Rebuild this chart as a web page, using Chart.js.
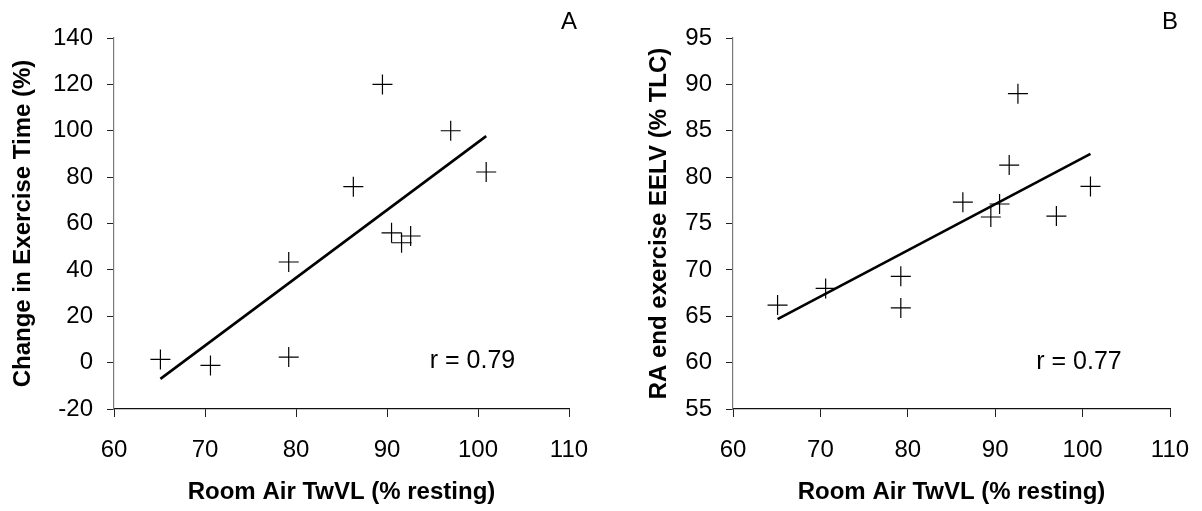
<!DOCTYPE html>
<html>
<head>
<meta charset="utf-8">
<script src="https://cdn.jsdelivr.net/npm/chart.js@4.4.1/dist/chart.umd.min.js"></script>
<style>
  html, body { margin: 0; padding: 0; background: #fff; }
  #wrap { position: relative; width: 1202px; height: 511px; }
  canvas { position: absolute; top: 0; }
  #cA { left: 0; }
  #cB { left: 601px; }
</style>
</head>
<body>
<div id="wrap">
  <canvas id="cA" width="601" height="511"></canvas>
  <canvas id="cB" width="601" height="511"></canvas>
</div>
<script>
// Room air TwVL (% resting) for each subject
const twvl = [65.1, 70.6, 79.2, 79.2, 86.3, 89.5, 90.5, 91.6, 92.6, 97.0, 100.9];

// Panel A: change in exercise time (%), same subject order as twvl
const exTimeChange = [1.4, -1.2, 2.4, 43.4, 75.9, 120.0, 56.0, 51.7, 54.6, 100.0, 82.2];

// Panel B: room-air end-exercise EELV (% TLC), same subject order as twvl
const eelv = [66.2, 68.0, 69.3, 65.9, 77.3, 75.7, 77.1, 81.3, 89.0, 75.8, 79.0];

// Least-squares lines (end points)
const fitX = [65.1, 100.9];
const fitA = [-7.0, 97.7];
const fitB = [64.7, 82.5];

// Correlation coefficients
const rA = 0.79;
const rB = 0.77;

// Axis ranges / tick steps
const xTicks = { min: 60, max: 110, step: 10 };
const yTicksA = { min: -20, max: 140, step: 20 };
const yTicksB = { min: 55, max: 95, step: 5 };

const FONT = "'Liberation Sans', Arial, Helvetica, sans-serif";

function pairs(xs, ys) { return xs.map((x, i) => ({ x: x, y: ys[i] })); }

// Panel letter and r-value annotation
function annotations(letter, rText, rAt) {
  return {
    id: 'panelText',
    afterDraw(chart) {
      const { ctx, chartArea, scales } = chart;
      ctx.save();
      ctx.fillStyle = '#000';
      ctx.font = '24px ' + FONT;
      ctx.textAlign = 'center';
      ctx.textBaseline = 'alphabetic';
      ctx.fillText(letter, chartArea.right, 29);
      ctx.font = '25px ' + FONT;
      ctx.textAlign = 'left';
      ctx.fillText(rText, scales.x.getPixelForValue(rAt.x), scales.y.getPixelForValue(rAt.y));
      ctx.restore();
    }
  };
}

// Fixed axis box sizes so both panels keep the same plot rectangle
function fixX(s) { s.height = 102; s.paddingLeft = 0; s.paddingRight = 0; }
function fixY(w) {
  return function (s) { s.width = w; s.paddingTop = 0; s.paddingBottom = 0; };
}

function makeChart(id, yVals, fitY, yRange, yTitle, yAxisWidth, yTitlePad, letter, rText, rAt) {
  return new Chart(document.getElementById(id), {
    type: 'scatter',
    data: {
      datasets: [
        {
          data: pairs(twvl, yVals),
          pointStyle: 'cross',
          pointRadius: 10,
          pointHoverRadius: 10,
          pointBorderWidth: 1.2,
          borderColor: '#000',
          backgroundColor: '#000',
          showLine: false
        },
        {
          data: pairs(fitX, fitY),
          showLine: true,
          borderColor: '#000',
          borderWidth: 2.6,
          pointRadius: 0,
          pointHoverRadius: 0,
          fill: false
        }
      ]
    },
    options: {
      responsive: false,
      animation: false,
      devicePixelRatio: 1,
      layout: { padding: { left: 0, right: 32, top: 38, bottom: 0 } },
      plugins: { legend: { display: false }, tooltip: { enabled: false } },
      scales: {
        x: {
          type: 'linear',
          min: xTicks.min, max: xTicks.max,
          afterFit: fixX,
          ticks: { stepSize: xTicks.step, color: '#000', font: { family: FONT, size: 24 }, padding: 19, maxRotation: 0 },
          grid: { drawOnChartArea: false, drawTicks: true, tickLength: 8, tickColor: '#222', tickWidth: 1 },
          border: { display: true, color: '#111', width: 1.2 },
          title: { display: true, text: 'Room Air TwVL (% resting)', color: '#000',
                   font: { family: FONT, size: 24, weight: 'bold' }, padding: { top: 0, bottom: 4 } }
        },
        y: {
          type: 'linear',
          min: yRange.min, max: yRange.max,
          afterFit: fixY(yAxisWidth),
          ticks: { stepSize: yRange.step, color: '#000', font: { family: FONT, size: 24 }, padding: 14 },
          grid: { drawOnChartArea: false, drawTicks: true, tickLength: 7, tickColor: '#222', tickWidth: 1 },
          border: { display: true, color: '#7a7a7a', width: 1.2 },
          title: { display: true, text: yTitle, color: '#000',
                   font: { family: FONT, size: 24, weight: 'bold' }, padding: { top: yTitlePad, bottom: 0 } }
        }
      }
    },
    plugins: [annotations(letter, rText, rAt)]
  });
}

makeChart('cA', exTimeChange, fitA, yTicksA, 'Change in Exercise Time (%)', 114, 9,
          'A', 'r = ' + rA.toFixed(2), { x: 94.7, y: -2.2 });
makeChart('cB', eelv, fitB, yTicksB, 'RA end exercise EELV (% TLC)', 132, 44,
          'B', 'r = ' + rB.toFixed(2), { x: 94.7, y: 59.3 });
</script>
</body>
</html>
